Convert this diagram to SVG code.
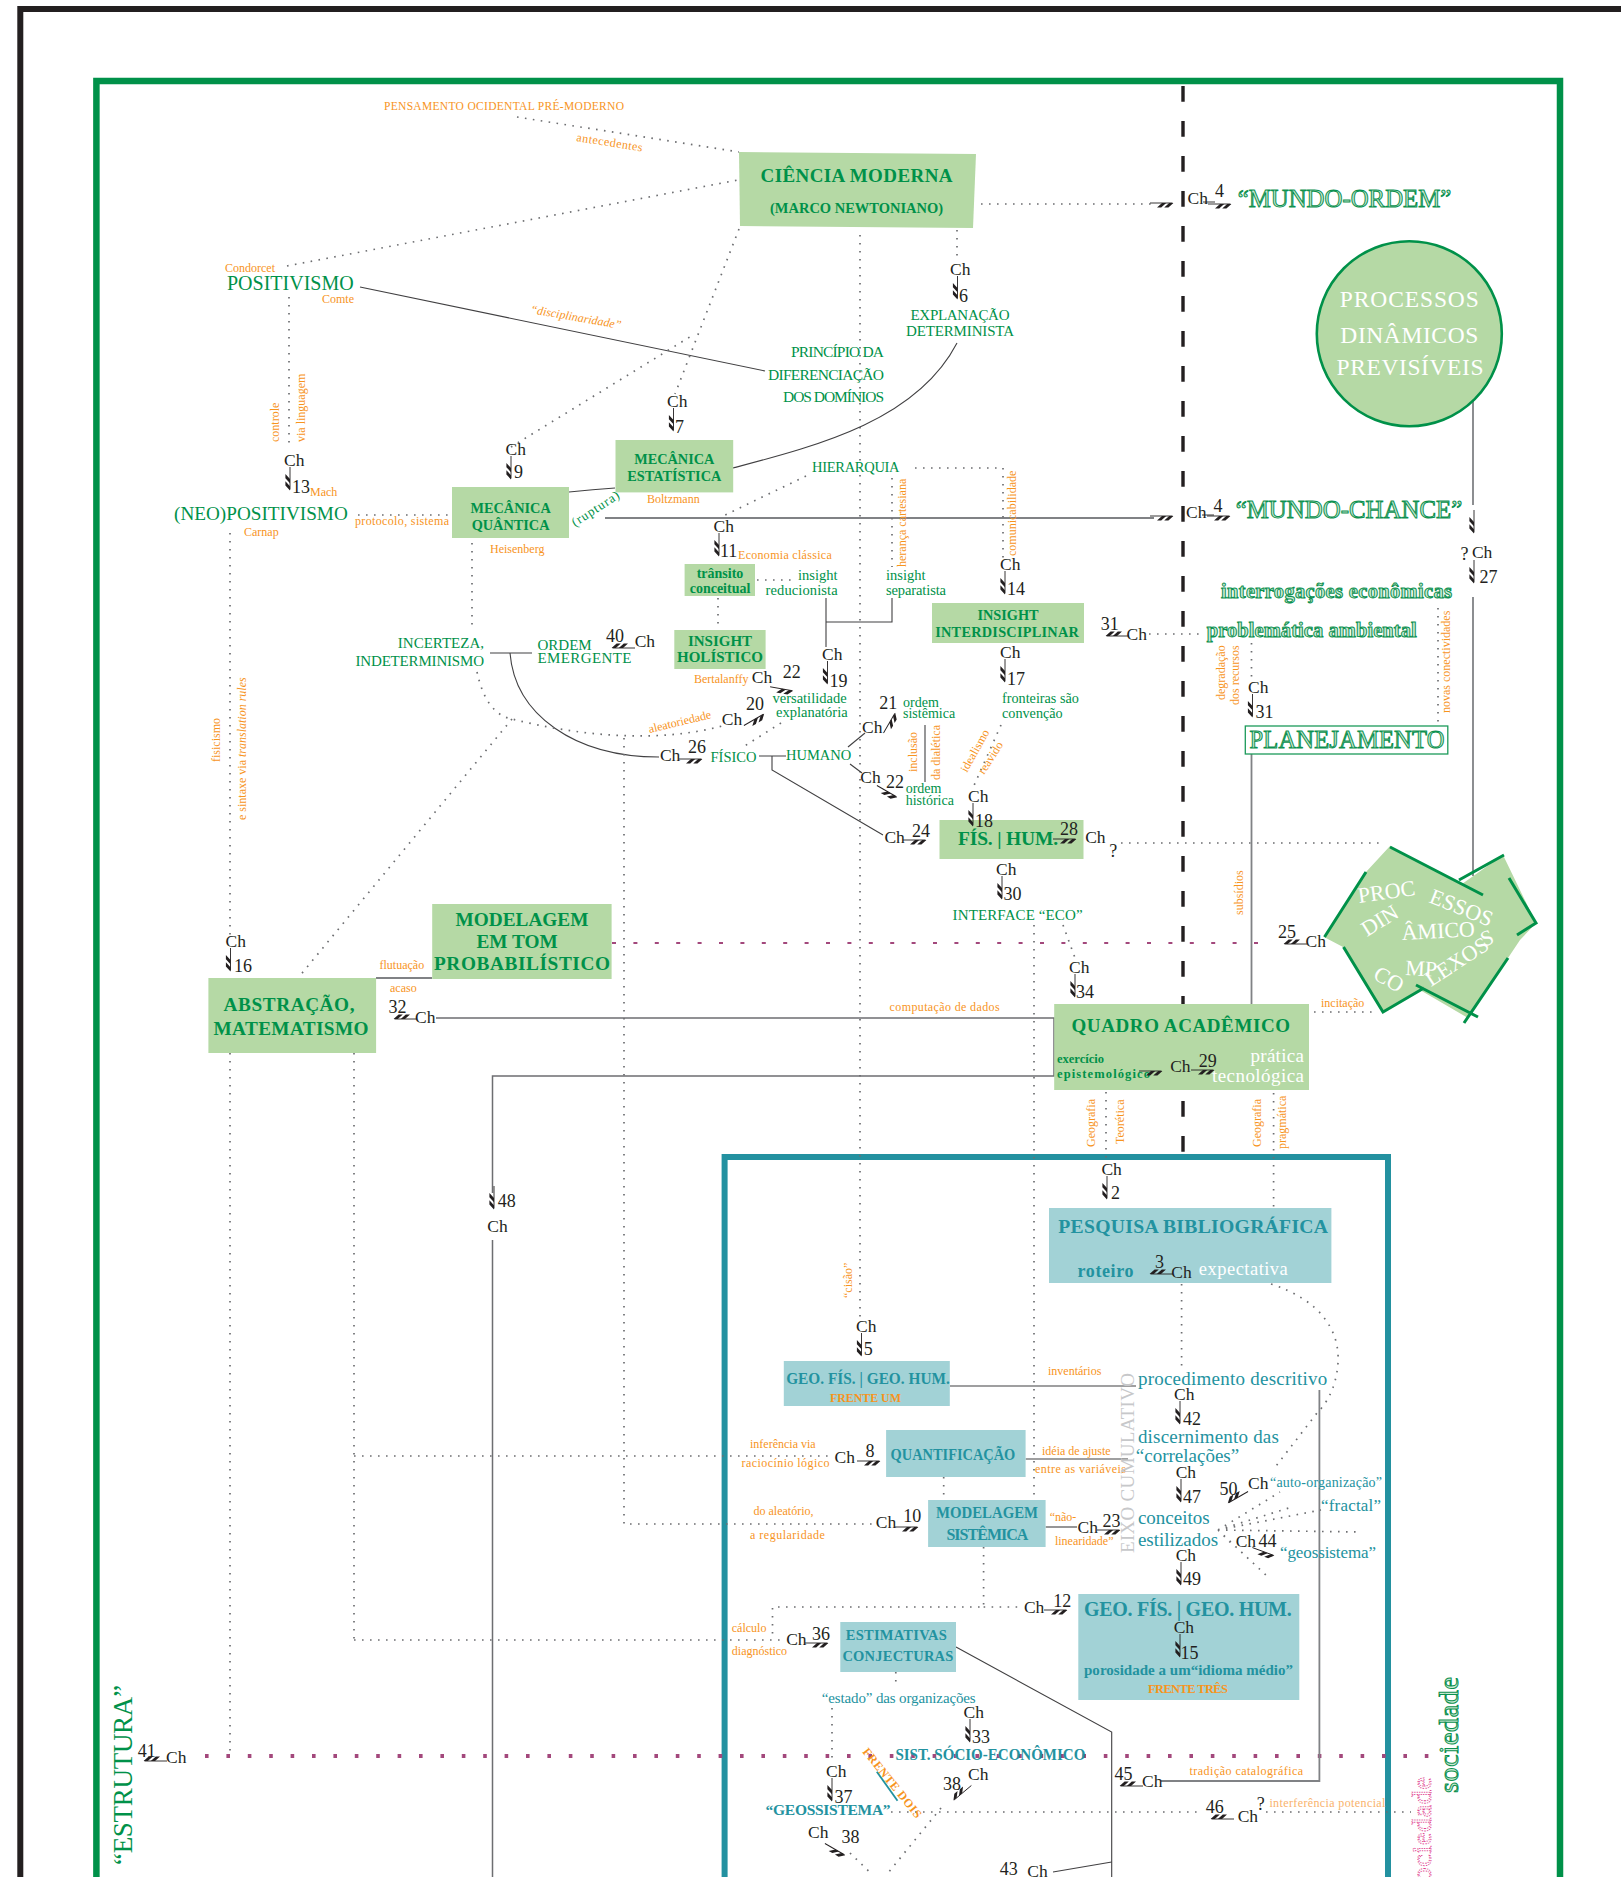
<svg xmlns="http://www.w3.org/2000/svg" width="1621" height="1877" viewBox="0 0 1621 1877">
<defs>
<style>
text{font-family:"Liberation Serif","Times New Roman",serif}
.g{fill:#009149}
.o{fill:#f7941d}
.w{fill:#ffffff}
.tl{fill:#2392a0}
.b{font-weight:bold}
.gb{fill:#b5d9a5}
.tb{fill:#a2d2d6}
.ol{fill:#c9ead5;stroke:#0d9150;stroke-width:1}
.dt{fill:none;stroke:#6d6e71;stroke-width:1.7;stroke-dasharray:1.6 6.4}
.sl{fill:none;stroke:#414042;stroke-width:1.1}
.gl{fill:none;stroke:#808285;stroke-width:1.8}
.mr{fill:none;stroke:#a3487c;stroke-width:2.2;stroke-dasharray:4 17.4}
.mq{fill:none;stroke:#a3487c;stroke-width:4;stroke-dasharray:3.6 17.8}
.cx{fill:none;stroke:#009149;stroke-width:3}
.mkf{fill:#231f20}
.stem{fill:none;stroke:#231f20;stroke-width:0.9}
.ch{fill:#231f20;font-size:17.5px}
.nm{fill:#231f20;font-size:18px}
.lb{fill:#f7941d;font-size:12px}
</style>
<!-- feathered Ch marker, pointing down from its origin -->
<g id="mk"><path class="stem" d="M0,-7V15.5"/><path class="mkf" d="M-4.6,0L0,5V9.2L-4.6,4.2Z M-4.6,7.2L0,12.2V16.4L-4.6,11.4Z"/></g>
</defs>
<rect width="1621" height="1877" fill="#ffffff"/>

<!-- outer frames and axes -->
<g id="frames">
<path d="M20.3,1877 V9 H1621" fill="none" stroke="#231f20" stroke-width="6"/>
<path d="M96.4,1877 V81 H1560 V1877" fill="none" stroke="#009149" stroke-width="6.5"/>
<path d="M1183,86 V1153" fill="none" stroke="#231f20" stroke-width="3.4" stroke-dasharray="15.7 19.3"/>
<path d="M724.6,1877 V1157 H1388 V1877" fill="none" stroke="#2391a0" stroke-width="6"/>
</g>

<g id="connectors">
<path class="dt" d="M517,117 L739,152"/>
<path class="dt" d="M287,266 L738,180"/>
<path class="sl" d="M360,287 L765,371"/>
<path class="dt" d="M289,297 V448"/>
<path class="dt" d="M511,447 L693,335"/>
<path class="dt" d="M739,229 L675,394"/>
<path class="dt" d="M860,235 V1322"/>
<path class="dt" d="M957,230 V262"/>
<path class="dt" d="M981,204 H1151"/>
<path class="sl" d="M957,343 C917,420 820,445 733,468"/>
<path class="dt" d="M358,515 H448"/>
<path class="sl" d="M569,492 C588,490 600,489 615,488"/>
<path class="gl" d="M605,518 H1154"/>
<path class="dt" d="M806,476 L723,516"/>
<path class="dt" d="M915,468 H1003 V560"/>
<path class="dt" d="M892,478 V567"/>
<path class="dt" d="M757,580 H795"/>
<path class="sl" d="M826,598 V622 H892 V598 M826,622 V647"/>
<path class="dt" d="M718,598 V630"/>
<path class="dt" d="M472,543 V630"/>
<path class="sl" d="M490,653 H532"/>
<path class="sl" d="M510,653 C515,715 575,757 659,757"/>
<path class="dt" d="M477,672 C483,700 495,716 512,719 C575,735 655,744 722,726"/>
<path class="dt" d="M512,719 L298,978"/>
<path class="dt" d="M624,738 V1524 H874"/>
<path class="dt" d="M781,723 L743,747"/>
<path class="sl" d="M759,756 H786 M772,756 V770 L883,835"/>
<path class="sl" d="M848,747 L865,733"/>
<path class="sl" d="M850,764 L862,773"/>
<path class="sl" d="M925,725 V782"/>
<path class="dt" d="M1001,725 L972,790"/>
<path class="dt" d="M1121,843 H1385"/>
<path class="gl" d="M1473,401 V505 M1473,597 V876"/>
<path class="dt" d="M1149,634 H1202"/>
<path class="dt" d="M1251.5,643 V680"/>
<path class="dt" d="M1438,608 V726"/>
<path class="gl" d="M1251.5,754 V1004"/>
<path class="mr" d="M612,943 H1270"/>
<path class="gl" d="M376,978 H432"/>
<path fill="none" stroke="#6d6e71" stroke-width="1.5" d="M436,1018 H1054 V1076 H492.5 V1193 M492.5,1240 V1877"/>
<path class="dt" d="M230,533 V940"/>
<path class="dt" d="M230,1053 V1756"/>
<path class="dt" d="M354,1053 V1640"/>
<path class="dt" d="M354,1456 H832"/>
<path class="dt" d="M354,1640 H784"/>
<path class="mq" d="M205,1756 H1435"/>
<path class="dt" d="M1063,925 L1075,958"/>
<path class="dt" d="M1034,925 V1498"/>
<path class="dt" d="M1314,1012 H1374"/>
<path class="dt" d="M1106,1092 V1162"/>
<path class="dt" d="M1273.6,1093 V1207"/>
<path class="dt" d="M1181.6,1284 V1372"/>
<path class="dt" d="M1271,1284 C1320,1300 1340,1330 1338,1363 C1336,1390 1325,1405 1317,1413 L1273,1470"/>
<path class="sl" d="M950,1386 H1136"/>
<path class="gl" d="M1319.4,1390 V1781 H1161"/>
<path class="sl" d="M1025.6,1459 H1128"/>
<path class="dt" d="M943.7,1477 V1500"/>
<path class="sl" d="M1045.6,1527 H1077"/>
<path class="dt" d="M983.6,1547 V1607 H772.5 V1640 M983.6,1607 H1022"/>
<path class="sl" d="M956,1647 L1111.7,1732 V1877"/>
<path class="sl" d="M1053,1872 L1111.7,1862"/>
<path class="dt" d="M895.8,1672 V1688"/>
<path class="dt" d="M832,1708 V1763"/>
<path class="dt" d="M891,1812 H1199 M1266,1812 H1411"/>
<path class="dt" d="M941,1808 L888,1873 M850,1853 L870.6,1873"/>
<path class="dt" d="M1218,1530 L1280,1492 M1218,1530 L1292,1507 M1218,1530 L1321,1510 M1218,1530 L1359,1532 M1218,1530 L1235,1547 M1218,1530 L1269,1578"/>
<path d="M876.8,1771.7 L897.5,1800.7" fill="none" stroke="#2392a0" stroke-width="1.8"/>
</g>

<!-- link labels -->
<g id="link-labels">
<text class="lb" transform="translate(576,141) rotate(9)" font-size="11" letter-spacing="0.5">antecedentes</text>
<text class="lb" transform="translate(530,313) rotate(10)" font-size="11" font-style="italic">“disciplinaridade”</text>
<text class="lb" transform="translate(279,442) rotate(-90)">controle</text>
<text class="lb" transform="translate(305,442) rotate(-90)">via linguagem</text>
<text class="lb" x="355" y="525" textLength="94">protocolo, sistema</text>
<text class="lb" transform="translate(220,762) rotate(-90)">fisicismo</text>
<text class="lb" transform="translate(246,820) rotate(-90)">e sintaxe via <tspan font-style="italic">translation rules</tspan></text>
<text class="g" transform="translate(575,527) rotate(-33)" font-size="13" letter-spacing="1">(ruptura)</text>
<text class="lb" transform="translate(906,567) rotate(-90)">herança cartesiana</text>
<text class="lb" transform="translate(1016,556) rotate(-90)">comunicabilidade</text>
<text class="lb" transform="translate(649.5,733) rotate(-13.5)">aleatoriedade</text>
<text class="lb" transform="translate(917,772) rotate(-90)">inclusão</text>
<text class="lb" transform="translate(940,780) rotate(-90)">da dialética</text>
<text class="lb" transform="translate(967,773) rotate(-61)">idealismo</text>
<text class="lb" transform="translate(984,775) rotate(-57)">reavido</text>
<text class="lb" transform="translate(1225,700) rotate(-90)">degradação</text>
<text class="lb" transform="translate(1239,705) rotate(-90)">dos recursos</text>
<text class="lb" transform="translate(1450,713) rotate(-90)">novas conectividades</text>
<text class="lb" transform="translate(1243,915) rotate(-90)">subsídios</text>
<text class="lb" x="379.5" y="969">flutuação</text>
<text class="lb" x="390" y="992">acaso</text>
<text class="lb" x="889.6" y="1011" textLength="110">computação de dados</text>
<text class="lb" x="1321" y="1007">incitação</text>
<text class="lb" transform="translate(1095,1147) rotate(-90)">Geografia</text>
<text class="lb" transform="translate(1124,1144) rotate(-90)">Teorética</text>
<text class="lb" transform="translate(1261,1147) rotate(-90)">Geografia</text>
<text class="lb" transform="translate(1286,1149) rotate(-90)">pragmática</text>
<text class="lb" transform="translate(852,1298) rotate(-90)">“cisão”</text>
<text class="lb" x="1048" y="1375">inventários</text>
<text class="lb" x="750" y="1448">inferência via</text>
<text class="lb" x="741.5" y="1467" textLength="88">raciocínio lógico</text>
<text class="lb" x="1042" y="1455">idéia de ajuste</text>
<text class="lb" x="1035" y="1473" textLength="91">entre as variáveis</text>
<text class="lb" x="753.5" y="1515">do aleatório,</text>
<text class="lb" x="750" y="1539" letter-spacing="0.5">a regularidade</text>
<text class="lb" x="1049.7" y="1521">“não-</text>
<text class="lb" x="1054.9" y="1545">linearidade”</text>
<text class="lb" x="731.8" y="1632">cálculo</text>
<text class="lb" x="731.8" y="1655">diagnóstico</text>
<text class="lb" x="1189.5" y="1775" textLength="113.6">tradição catalográfica</text>
<text x="1269.4" y="1807" font-size="12" fill="#f9b26c" textLength="116">interferência potencial</text>
</g>

<!-- nodes -->
<g id="n-pensamento"><text class="o" x="384" y="110" font-size="11.5" textLength="240">PENSAMENTO OCIDENTAL PRÉ-MODERNO</text></g>

<g id="n-ciencia-moderna">
<polygon class="gb" points="739,152 976,154 973,228 740,226"/>
<text class="g b" x="856.5" y="182" text-anchor="middle" font-size="19" textLength="192">CIÊNCIA MODERNA</text>
<text class="g b" x="856.5" y="213" text-anchor="middle" font-size="15.5" textLength="173" lengthAdjust="spacingAndGlyphs">(MARCO NEWTONIANO)</text>
</g>

<g id="n-positivismo">
<text class="lb" x="225" y="272">Condorcet</text>
<text class="g" x="227" y="290" font-size="20">POSITIVISMO</text>
<text class="lb" x="322" y="303">Comte</text>
</g>

<g id="n-explanacao">
<text class="g" x="960" y="320" text-anchor="middle" font-size="15" textLength="99">EXPLANAÇÃO</text>
<text class="g" x="960" y="336" text-anchor="middle" font-size="15" textLength="108">DETERMINISTA</text>
</g>

<g id="n-principio">
<text class="g" x="884" y="357" text-anchor="end" font-size="15.5" textLength="93">PRINCÍPIO DA</text>
<text class="g" x="884" y="380" text-anchor="end" font-size="15.5" textLength="116">DIFERENCIAÇÃO</text>
<text class="g" x="884" y="402" text-anchor="end" font-size="15.5" textLength="101">DOS DOMÍNIOS</text>
</g>

<g id="n-mecanica-estatistica">
<rect class="gb" x="615.5" y="440" width="117.7" height="52.4"/>
<text class="g b" x="674.3" y="464" text-anchor="middle" font-size="14.3">MECÂNICA</text>
<text class="g b" x="674.3" y="481" text-anchor="middle" font-size="14.3">ESTATÍSTICA</text>
<text class="lb" x="647" y="503">Boltzmann</text>
</g>

<g id="n-hierarquia"><text class="g" x="812" y="472" font-size="14.5" textLength="87.6">HIERARQUIA</text></g>

<g id="n-neopositivismo">
<text class="g" x="174" y="520" font-size="19.2">(NEO)POSITIVISMO</text>
<text class="lb" x="244" y="536">Carnap</text>
</g>

<g id="n-mecanica-quantica">
<rect class="gb" x="452" y="487" width="117" height="51"/>
<text class="g b" x="510.6" y="513" text-anchor="middle" font-size="14.3">MECÂNICA</text>
<text class="g b" x="510.6" y="530" text-anchor="middle" font-size="14.3">QUÂNTICA</text>
<text class="lb" x="490" y="553">Heisenberg</text>
</g>

<g id="n-transito">
<rect class="gb" x="684.6" y="564" width="70.4" height="32"/>
<text class="g b" x="720" y="578" text-anchor="middle" font-size="14">trânsito</text>
<text class="g b" x="720" y="593" text-anchor="middle" font-size="14">conceitual</text>
<text class="lb" x="738" y="559" letter-spacing="0.3">Economia clássica</text>
</g>

<g id="n-insight-reducionista">
<text class="g" x="798" y="580" font-size="14.5">insight</text>
<text class="g" x="765.6" y="595" font-size="14.5" textLength="72">reducionista</text>
</g>

<g id="n-insight-separatista">
<text class="g" x="886" y="580" font-size="14.5">insight</text>
<text class="g" x="886" y="595" font-size="14.5" textLength="60">separatista</text>
</g>

<g id="n-insight-interdisciplinar">
<rect class="gb" x="932" y="603" width="152" height="40"/>
<text class="g b" x="1008" y="620" text-anchor="middle" font-size="14.3">INSIGHT</text>
<text class="g b" x="1007" y="637" text-anchor="middle" font-size="14.3" textLength="143.6">INTERDISCIPLINAR</text>
</g>

<g id="n-insight-holistico">
<rect class="gb" x="674.3" y="630" width="91.3" height="39"/>
<text class="g b" x="720" y="646" text-anchor="middle" font-size="15">INSIGHT</text>
<text class="g b" x="720" y="662" text-anchor="middle" font-size="15" textLength="86">HOLÍSTICO</text>
<text class="lb" x="694" y="683">Bertalanffy</text>
</g>

<g id="n-incerteza">
<text class="g" x="484" y="648" text-anchor="end" font-size="15">INCERTEZA,</text>
<text class="g" x="484" y="666" text-anchor="end" font-size="15" textLength="128.5">INDETERMINISMO</text>
</g>

<g id="n-ordem-emergente">
<text class="g" x="537.5" y="650" font-size="15">ORDEM</text>
<text class="g" x="537.5" y="663" font-size="15" textLength="94">EMERGENTE</text>
</g>

<g id="n-versatilidade">
<text class="g" x="772.5" y="703" font-size="14.5">versatilidade</text>
<text class="g" x="776" y="717" font-size="14.5">explanatória</text>
</g>

<g id="n-fisico"><text class="g" x="710.5" y="762" font-size="14.5">FÍSICO</text></g>
<g id="n-humano"><text class="g" x="786" y="760" font-size="14.5">HUMANO</text></g>

<g id="n-ordem-sistemica">
<text class="g" x="903" y="707" font-size="14">ordem</text>
<text class="g" x="903" y="718" font-size="14">sistêmica</text>
</g>

<g id="n-ordem-historica">
<text class="g" x="905.7" y="793" font-size="14">ordem</text>
<text class="g" x="905.7" y="805" font-size="14">histórica</text>
</g>

<g id="n-fronteiras">
<text class="g" x="1002" y="703" font-size="14.2">fronteiras são</text>
<text class="g" x="1002" y="718" font-size="14.2">convenção</text>
</g>

<g id="n-fis-hum">
<rect class="gb" x="939.5" y="820" width="144" height="39"/>
<text class="g b" x="958" y="845" font-size="19.5" textLength="100">FÍS. | HUM.</text>
</g>

<g id="n-interface-eco"><text class="g" x="952.6" y="920" font-size="15" textLength="130">INTERFACE “ECO”</text></g>

<g id="n-mundo-ordem"><text class="ol" x="1237.7" y="207" font-size="24.8" textLength="213.6">“MUNDO-ORDEM”</text></g>
<g id="n-mundo-chance"><text class="ol" x="1235.7" y="518" font-size="24.8" textLength="226.6">“MUNDO-CHANCE”</text></g>

<g id="n-processos-previsiveis">
<circle class="gb" cx="1409.3" cy="333.7" r="92.5" stroke="#009149" stroke-width="2.6"/>
<text class="w" x="1409.3" y="307" text-anchor="middle" font-size="23.5" textLength="139">PROCESSOS</text>
<text class="w" x="1409.3" y="343" text-anchor="middle" font-size="23.5" textLength="138">DINÂMICOS</text>
<text class="w" x="1410" y="375" text-anchor="middle" font-size="23.5" textLength="147">PREVISÍVEIS</text>
</g>

<g id="n-interrogacoes"><text class="ol b" x="1221" y="598" font-size="20.5" textLength="231">interrogações econômicas</text></g>
<g id="n-problematica"><text class="ol b" x="1206.7" y="637" font-size="20.5" textLength="210">problemática ambiental</text></g>

<g id="n-planejamento">
<rect x="1245.3" y="726" width="202.5" height="28" fill="#ffffff" stroke="#1c9a5a" stroke-width="1.3"/>
<text class="ol" x="1249.4" y="748" font-size="24.5" textLength="195">PLANEJAMENTO</text>
</g>

<g id="n-processos-complexos">
<polygon class="gb" points="1390,846 1462,884 1503,855 1536,923 1520,940 1468,1018 1420,990 1383,1012 1343,947 1324,937 1366,872"/>
<path class="cx" d="M1390,847 L1483,895 M1366,872 L1324.5,937 M1459,880 L1504,855 M1509,878 L1536,923 L1517,935 M1343.5,947 L1383,1012 L1424,988 M1416,985 L1478,1017 M1508,958 L1464,1023"/>
<text class="w" font-size="22" transform="translate(1359,903) rotate(-8)">PROC</text>
<text class="w" font-size="22" transform="translate(1428,902) rotate(22)">ESSOS</text>
<text class="w" font-size="22" transform="translate(1367,937) rotate(-32)">DIN</text>
<text class="w" font-size="22" transform="translate(1402,940) rotate(-3)">ÂMICO</text>
<text class="w" font-size="22" transform="translate(1484,947) rotate(-22)">S</text>
<text class="w" font-size="22" transform="translate(1372,978) rotate(30)">CO</text>
<text class="w" font-size="22" transform="translate(1405,975) rotate(3)">MP</text>
<text class="w" font-size="22" transform="translate(1431,987) rotate(-33)">LEXOS</text>
</g>

<g id="n-modelagem-probabilistico">
<rect class="gb" x="432.2" y="904" width="179.4" height="75"/>
<text class="g b" x="522" y="926" text-anchor="middle" font-size="19.3">MODELAGEM</text>
<text class="g b" x="517" y="948" text-anchor="middle" font-size="19.3">EM TOM</text>
<text class="g b" x="522" y="970" text-anchor="middle" font-size="19.3" textLength="176">PROBABILÍSTICO</text>
</g>

<g id="n-abstracao">
<rect class="gb" x="208.4" y="978" width="167.7" height="75"/>
<text class="g b" x="289" y="1011" text-anchor="middle" font-size="19.3" textLength="131">ABSTRAÇÃO,</text>
<text class="g b" x="291" y="1035" text-anchor="middle" font-size="19.3" textLength="155">MATEMATISMO</text>
</g>

<g id="n-quadro-academico">
<rect class="gb" x="1054.2" y="1004" width="254.8" height="86"/>
<text class="g b" x="1071.5" y="1032" font-size="19" textLength="218.5">QUADRO ACADÊMICO</text>
<text class="g b" x="1057" y="1063" font-size="12.5">exercício</text>
<text class="g b" x="1057" y="1078" font-size="12.5" textLength="93">epistemológico</text>
<text class="w" x="1250.5" y="1062" font-size="19" textLength="53.4">prática</text>
<text class="w" x="1212" y="1082" font-size="19" textLength="92">tecnológica</text>
</g>

<g id="n-pesquisa">
<rect class="tb" x="1049" y="1208" width="282.4" height="75"/>
<text class="tl b" x="1058.3" y="1233" font-size="19.7" textLength="269.7">PESQUISA BIBLIOGRÁFICA</text>
<text class="tl b" x="1077.5" y="1277" font-size="18" textLength="56">roteiro</text>
<text class="w" x="1198.8" y="1275" font-size="18.5" textLength="89">expectativa</text>
</g>

<g id="n-geo-frente-um">
<rect class="tb" x="783.8" y="1361" width="166" height="45"/>
<text class="tl b" x="786.2" y="1384" font-size="16.5" textLength="163.6" lengthAdjust="spacingAndGlyphs">GEO. FÍS. | GEO. HUM.</text>
<text class="o b" x="830" y="1402" font-size="12" textLength="71">FRENTE UM</text>
</g>

<g id="n-procedimento"><text class="tl" x="1137.9" y="1385" font-size="19" textLength="189.4">procedimento descritivo</text></g>
<g id="n-eixo"><text x="0" y="0" transform="translate(1134,1553) rotate(-90)" font-size="19" fill="#c7c8ca" textLength="180">EIXO CUMULATIVO</text></g>

<g id="n-discernimento">
<text class="tl" x="1137.9" y="1443" font-size="19" textLength="141">discernimento das</text>
<text class="tl" x="1135.8" y="1462" font-size="19">“correlações”</text>
</g>

<g id="n-conceitos">
<text class="tl" x="1137.9" y="1524" font-size="19">conceitos</text>
<text class="tl" x="1137.9" y="1546" font-size="19">estilizados</text>
</g>

<g id="n-auto-organizacao"><text class="tl" x="1270" y="1487" font-size="14" textLength="112">“auto-organização”</text></g>
<g id="n-fractal"><text class="tl" x="1321" y="1511" font-size="17" textLength="60">“fractal”</text></g>
<g id="n-geossistema-min"><text class="tl" x="1280" y="1558" font-size="17" textLength="96">“geossistema”</text></g>

<g id="n-quantificacao">
<rect class="tb" x="886.1" y="1430" width="139.5" height="47"/>
<text class="tl b" x="890.6" y="1460" font-size="17" textLength="124.7" lengthAdjust="spacingAndGlyphs">QUANTIFICAÇÃO</text>
</g>

<g id="n-modelagem-sistemica">
<rect class="tb" x="928.1" y="1500" width="117.5" height="47"/>
<text class="tl b" x="936" y="1518" font-size="16" textLength="102" lengthAdjust="spacingAndGlyphs">MODELAGEM</text>
<text class="tl b" x="946.4" y="1540" font-size="16" textLength="82">SISTÊMICA</text>
</g>

<g id="n-geo-frente-tres">
<rect class="tb" x="1078.3" y="1594" width="221" height="106"/>
<text class="tl b" x="1084" y="1616" font-size="20" textLength="207.7">GEO. FÍS. | GEO. HUM.</text>
<text class="tl b" x="1084" y="1675" font-size="15.5" textLength="209" lengthAdjust="spacingAndGlyphs">porosidade a um“idioma médio”</text>
<text class="o b" x="1148" y="1693" font-size="12.5" textLength="80">FRENTE TRÊS</text>
</g>

<g id="n-estimativas">
<rect class="tb" x="840.3" y="1622" width="115.7" height="50"/>
<text class="tl b" x="845.8" y="1640" font-size="14.5" textLength="101">ESTIMATIVAS</text>
<text class="tl b" x="842.4" y="1661" font-size="14.5" textLength="111">CONJECTURAS</text>
</g>

<g id="n-estado"><text class="tl" x="821.7" y="1703" font-size="15" textLength="154">“estado” das organizações</text></g>
<g id="n-sist-socio"><text class="tl b" x="895.4" y="1760" font-size="16.5" textLength="190" lengthAdjust="spacingAndGlyphs">SIST. SÓCIO-ECONÔMICO</text></g>
<g id="n-geossistema"><text class="tl b" x="765.6" y="1815" font-size="15.5" textLength="125">“GEOSSISTEMA”</text></g>
<g id="n-frente-dois"><text class="o b" transform="translate(862,1752) rotate(51)" font-size="12" textLength="86">FRENTE DOIS</text></g>

<g id="n-sociedade">
<text class="ol" transform="translate(1458,1793) rotate(-90)" font-size="28" textLength="116">sociedade</text>
<text transform="translate(1431,1893) rotate(-90)" font-size="28" fill="none" stroke="#e0448f" stroke-width="1" stroke-dasharray="1.2 1.2" textLength="116">sociedade</text>
</g>
<g id="n-estrutura"><text class="g" transform="translate(132,1865) rotate(-90)" font-size="27" textLength="180">“ESTRUTURA”</text></g>

<!-- Ch markers -->
<g id="ch-markers">
<g><text class="ch" x="950" y="275">Ch</text><use href="#mk" x="957.5" y="283"/><text class="nm" x="959" y="302">6</text></g>
<g><text class="ch" x="667" y="407">Ch</text><use href="#mk" x="673.5" y="415"/><text class="nm" x="675" y="433">7</text></g>
<g><text class="ch" x="505.5" y="455">Ch</text><use href="#mk" x="511" y="463"/><text class="nm" x="514" y="478">9</text></g>
<g><text class="ch" x="284" y="466">Ch</text><use href="#mk" x="290" y="474"/><text class="nm" x="292" y="493">13</text><text class="lb" x="310" y="496">Mach</text></g>
<g><text class="ch" x="713.6" y="532">Ch</text><use href="#mk" x="719" y="540"/><text class="nm" x="720" y="557">11</text></g>
<g><text class="ch" x="1000" y="570">Ch</text><use href="#mk" x="1005" y="578"/><text class="nm" x="1007" y="595">14</text></g>
<g><text class="ch" x="1000" y="658">Ch</text><use href="#mk" x="1005" y="666"/><text class="nm" x="1007" y="685">17</text></g>
<g><text class="ch" x="822" y="660">Ch</text><use href="#mk" x="827.5" y="668"/><text class="nm" x="829.5" y="687">19</text></g>
<g><text class="ch" x="968" y="802">Ch</text><use href="#mk" x="973" y="810"/><text class="nm" x="975" y="827">18</text></g>
<g><text class="ch" x="996" y="875">Ch</text><use href="#mk" x="1002" y="883"/><text class="nm" x="1003.5" y="900">30</text></g>
<g><text class="ch" x="1069" y="973">Ch</text><use href="#mk" x="1075" y="981"/><text class="nm" x="1076" y="998">34</text></g>
<g><text class="ch" x="1101.4" y="1175">Ch</text><use href="#mk" x="1107" y="1183"/><text class="nm" x="1111" y="1199">2</text></g>
<g><text class="ch" x="856" y="1332">Ch</text><use href="#mk" x="861.5" y="1340"/><text class="nm" x="863.7" y="1355">5</text></g>
<g><text class="ch" x="1174" y="1400">Ch</text><use href="#mk" x="1180" y="1408"/><text class="nm" x="1183" y="1425">42</text></g>
<g><text class="ch" x="1175.7" y="1478">Ch</text><use href="#mk" x="1181" y="1486"/><text class="nm" x="1183" y="1503">47</text></g>
<g><text class="ch" x="1175.7" y="1561">Ch</text><use href="#mk" x="1181" y="1569"/><text class="nm" x="1183" y="1585">49</text></g>
<g><text class="ch" x="1173.7" y="1633">Ch</text><use href="#mk" x="1180" y="1641"/><text class="nm" x="1180.6" y="1659">15</text></g>
<g><text class="ch" x="963.6" y="1718">Ch</text><use href="#mk" x="970" y="1726"/><text class="nm" x="972" y="1743">33</text></g>
<g><text class="ch" x="826" y="1777">Ch</text><use href="#mk" x="832" y="1785"/><text class="nm" x="834.5" y="1803">37</text></g>
<g><text class="ch" x="1248" y="693">Ch</text><use href="#mk" x="1252.5" y="701"/><text class="nm" x="1255.6" y="718">31</text></g>
<g><text class="ch" x="225.6" y="947">Ch</text><use href="#mk" x="230.5" y="955"/><text class="nm" x="234" y="972">16</text></g>
<g><use href="#mk" x="1474" y="517"/><text class="nm" x="1460.6" y="560" font-size="16">?</text><text class="ch" x="1471.9" y="558">Ch</text><use href="#mk" x="1474" y="567"/><text class="nm" x="1479.5" y="583">27</text></g>
<g><use href="#mk" x="494" y="1193"/><text class="nm" x="497.7" y="1207">48</text><text class="ch" x="487.3" y="1232">Ch</text></g>
<g><use href="#mk" transform="translate(1157,203) rotate(-90)"/><text class="ch" x="1187.5" y="204" font-size="16">Ch</text><path class="stem" d="M1203,202 H1215"/><text class="nm" x="1215" y="197" font-size="17">4</text><use href="#mk" transform="translate(1215,204) rotate(-90)"/></g>
<g><use href="#mk" transform="translate(1157,516) rotate(-90)"/><text class="ch" x="1186" y="518" font-size="16">Ch</text><path class="stem" d="M1202,515 H1214"/><text class="nm" x="1213.6" y="512" font-size="17">4</text><use href="#mk" transform="translate(1214,516) rotate(-90)"/></g>
<g><text class="nm" x="606" y="642">40</text><use href="#mk" transform="translate(628,648) rotate(90)"/><text class="ch" x="634.7" y="647">Ch</text></g>
<g><text class="nm" x="388.5" y="1013">32</text><use href="#mk" transform="translate(410,1019) rotate(90)"/><text class="ch" x="415" y="1023">Ch</text></g>
<g><text class="nm" x="137.8" y="1757">41</text><use href="#mk" transform="translate(160,1761) rotate(90)"/><text class="ch" x="166" y="1763" font-size="16">Ch</text></g>
<g><text class="nm" x="1278" y="938">25</text><use href="#mk" transform="translate(1300,944) rotate(90)"/><text class="ch" x="1305.6" y="947">Ch</text></g>
<g><text class="nm" x="1100.7" y="630">31</text><use href="#mk" transform="translate(1122,636) rotate(90)"/><text class="ch" x="1126.5" y="640">Ch</text></g>
<g><text class="nm" x="1114.4" y="1780">45</text><use href="#mk" transform="translate(1136,1786) rotate(90)"/><text class="ch" x="1142" y="1787">Ch</text></g>
<g><text class="nm" x="1205.7" y="1813">46</text><use href="#mk" transform="translate(1227,1819) rotate(90)"/><text class="ch" x="1237.7" y="1822">Ch</text><text class="nm" x="1256.7" y="1810" font-size="16">?</text></g>
<g><text class="nm" x="1155" y="1268">3</text><use href="#mk" transform="translate(1166,1274) rotate(90)"/><text class="ch" x="1171.3" y="1278">Ch</text></g>
<g><use href="#mk" transform="translate(1146,1071) rotate(-90)"/><text class="ch" x="1170.2" y="1072">Ch</text><text class="nm" x="1198.8" y="1067">29</text><use href="#mk" transform="translate(1198,1070) rotate(-90)"/></g>
<g><text class="ch" x="834.5" y="1463">Ch</text><text class="nm" x="865.5" y="1457">8</text><use href="#mk" transform="translate(864,1461) rotate(-90)"/></g>
<g><text class="ch" x="875.8" y="1528">Ch</text><text class="nm" x="903.3" y="1522">10</text><use href="#mk" transform="translate(902,1527) rotate(-90)"/></g>
<g><text class="ch" x="1023.9" y="1613">Ch</text><text class="nm" x="1053.2" y="1607">12</text><use href="#mk" transform="translate(1051,1610) rotate(-90)"/></g>
<g><text class="ch" x="786.2" y="1645">Ch</text><text class="nm" x="812.1" y="1640">36</text><use href="#mk" transform="translate(812,1643) rotate(-90)"/></g>
<g><text class="ch" x="1077.5" y="1533">Ch</text><text class="nm" x="1102.4" y="1527">23</text><use href="#mk" transform="translate(1104,1530) rotate(-90)"/></g>
<g><text class="ch" x="884.4" y="843">Ch</text><text class="nm" x="912" y="837">24</text><use href="#mk" transform="translate(910,840) rotate(-90)"/></g>
<g><text class="ch" x="659.9" y="761">Ch</text><text class="nm" x="688.1" y="753">26</text><use href="#mk" transform="translate(686,759) rotate(-90)"/></g>
<g><text class="nm" x="1060" y="835">28</text><use href="#mk" transform="translate(1060,839) rotate(-90)"/><text class="ch" x="1085.2" y="843">Ch</text><text class="nm" x="1109.3" y="857" font-size="16">?</text></g>
<g><text class="ch" x="751.8" y="683">Ch</text><text class="nm" x="782.8" y="678">22</text><use href="#mk" transform="translate(777,688) rotate(-80)"/></g>
<g><text class="ch" x="721.8" y="725">Ch</text><text class="nm" x="746" y="710">20</text><use href="#mk" transform="translate(750,722) rotate(-120)"/></g>
<g><text class="ch" x="862" y="733">Ch</text><text class="nm" x="879.2" y="709">21</text><use href="#mk" transform="translate(887,727) rotate(-150)"/></g>
<g><text class="ch" x="860.3" y="783">Ch</text><text class="nm" x="886.1" y="788">22</text><use href="#mk" transform="translate(883,789) rotate(-60)"/></g>
<g><text class="ch" x="1235.7" y="1547">Ch</text><text class="nm" x="1258.4" y="1547">44</text><use href="#mk" transform="translate(1259,1550) rotate(-70)"/></g>
<g><text class="nm" x="1219.5" y="1495">50</text><text class="ch" x="1248" y="1489">Ch</text><use href="#mk" transform="translate(1242,1495) rotate(60)"/></g>
<g><text class="nm" x="943" y="1790">38</text><text class="ch" x="968.1" y="1780">Ch</text><use href="#mk" transform="translate(966,1790) rotate(50)"/></g>
<g><text class="ch" x="808" y="1838">Ch</text><text class="nm" x="841.4" y="1843">38</text><use href="#mk" transform="translate(831,1847) rotate(-60)"/></g>
<g><text class="nm" x="999.8" y="1875">43</text><text class="ch" x="1027.3" y="1877">Ch</text></g>
</g>
</svg>
